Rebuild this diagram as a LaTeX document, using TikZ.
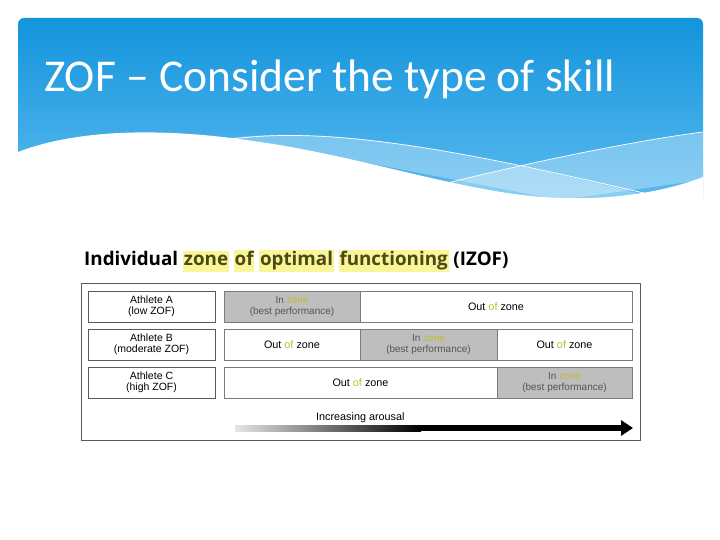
\documentclass[tikz,border=0pt]{standalone}
\usepackage{fontspec}
\setmainfont{Liberation Sans}
\newfontfamily\headfont{Carlito}
\newfontfamily\figfont{Open Sans}
\usetikzlibrary{positioning,arrows.meta}
\definecolor{skytop}{HTML}{1394DC}
\definecolor{skybot}{HTML}{5CBBF0}
\definecolor{framegray}{HTML}{5A5A5A}
\definecolor{zonegray}{HTML}{BEBEBE}
\definecolor{zoneyel}{HTML}{BDBD2A}
\definecolor{hlyel}{HTML}{FBF59A}
\definecolor{olive}{HTML}{4A4A12}
\definecolor{softtext}{HTML}{555555}
\setlength{\fboxsep}{0.8pt}
\newcommand{\hl}[1]{\colorbox{hlyel}{\strut #1}}

\begin{document}
\begin{tikzpicture}[x=1pt, y=-1pt, node distance=7pt and 9pt,
  athlete/.style={draw=framegray, line width=0.8pt, fill=white, minimum width=127pt, minimum height=31pt, inner sep=0pt, outer sep=0pt, align=center, font=\fontsize{10.5}{10.5}\selectfont},
  inbar/.style={draw=framegray!80, line width=0.8pt, fill=zonegray, minimum height=31pt, inner sep=0pt, outer sep=0pt, align=center, text=softtext, font=\fontsize{10}{11}\selectfont},
  outbar/.style={draw=framegray!80, line width=0.8pt, fill=white, minimum height=31pt, inner sep=0pt, outer sep=0pt, align=center, font=\fontsize{10.8}{11}\selectfont}]
\useasboundingbox (0,0) rectangle (720,540);
\fill[white] (0,0) rectangle (720,540);

% header banner
\shade[top color=skytop, bottom color=skybot, rounded corners=6pt] (18,18) rectangle (703,205);
\fill[white, opacity=0.3] (222,139) .. controls (330,124) and (460,150) .. (650,196) -- (560,200) -- (300,150) -- cycle;
\fill[white, opacity=0.3] (443,184) .. controls (540,160) and (640,140) .. (703,132) -- (703,180) -- (560,200) -- cycle;
\fill[white] (18,152) .. controls (70,132) and (150,125) .. (260,142) .. controls (370,158) and (470,195) .. (560,198) .. controls (620,200) and (670,190) .. (703,177) -- (703,210) -- (18,210) -- cycle;
\draw[white, line width=0.7pt] (232,139) .. controls (330,126) and (460,150) .. (648,194);
\draw[white, line width=0.7pt] (443,184) .. controls (540,160) and (640,140) .. (703,132);
\node[anchor=base west, text=white, font=\headfont\fontsize{45.5}{50}\selectfont, inner sep=0pt] (title) at (44,92) {ZOF – Consider the type of skill};

% figure
\node[anchor=base west, inner sep=0pt, font=\figfont\bfseries\fontsize{18.8}{19}\selectfont] (izof) at (84,265)
  {Individual \textcolor{olive}{\hl{zone} \hl{of} \hl{optimal} \hl{functioning}} (IZOF)};
\draw[framegray, line width=1pt] (81,283) rectangle (640,440);

\node[athlete] (athA) at (151.5,306.5) {Athlete A\\(low ZOF)};
\node[athlete, below=of athA] (athB) {Athlete B\\(moderate ZOF)};
\node[athlete, below=of athB] (athC) {Athlete C\\(high ZOF)};

\node[inbar, minimum width=136pt, right=of athA] (a1) {In \textcolor{zoneyel}{zone}\\(best performance)};
\node[outbar, minimum width=272pt, right=0pt of a1] (a2) {Out \textcolor{zoneyel}{of} zone};

\node[outbar, minimum width=136pt, right=of athB] (b1) {Out \textcolor{zoneyel}{of} zone};
\node[inbar, minimum width=137pt, right=0pt of b1] (b2) {In \textcolor{zoneyel}{zone}\\(best performance)};
\node[outbar, minimum width=135pt, right=0pt of b2] (b3) {Out \textcolor{zoneyel}{of} zone};

\node[outbar, minimum width=273pt, right=of athC] (c1) {Out \textcolor{zoneyel}{of} zone};
\node[inbar, minimum width=135pt, right=0pt of c1] (c2) {In \textcolor{zoneyel}{zone}\\(best performance)};

\node[font=\fontsize{10.8}{12}\selectfont, anchor=base west, inner sep=0pt] (arousal) at (316,420) {Increasing arousal};
\coordinate (arrS) at (235,428);
\coordinate (arrM) at (420,428);
\coordinate (arrE) at (633,428);
\shade[left color=gray!20, right color=black] (235,425) rectangle (421,431);
\draw[-{Triangle[length=12pt,width=15pt]}, line width=6pt] (arrM) -- (arrE);
\end{tikzpicture}
\end{document}
